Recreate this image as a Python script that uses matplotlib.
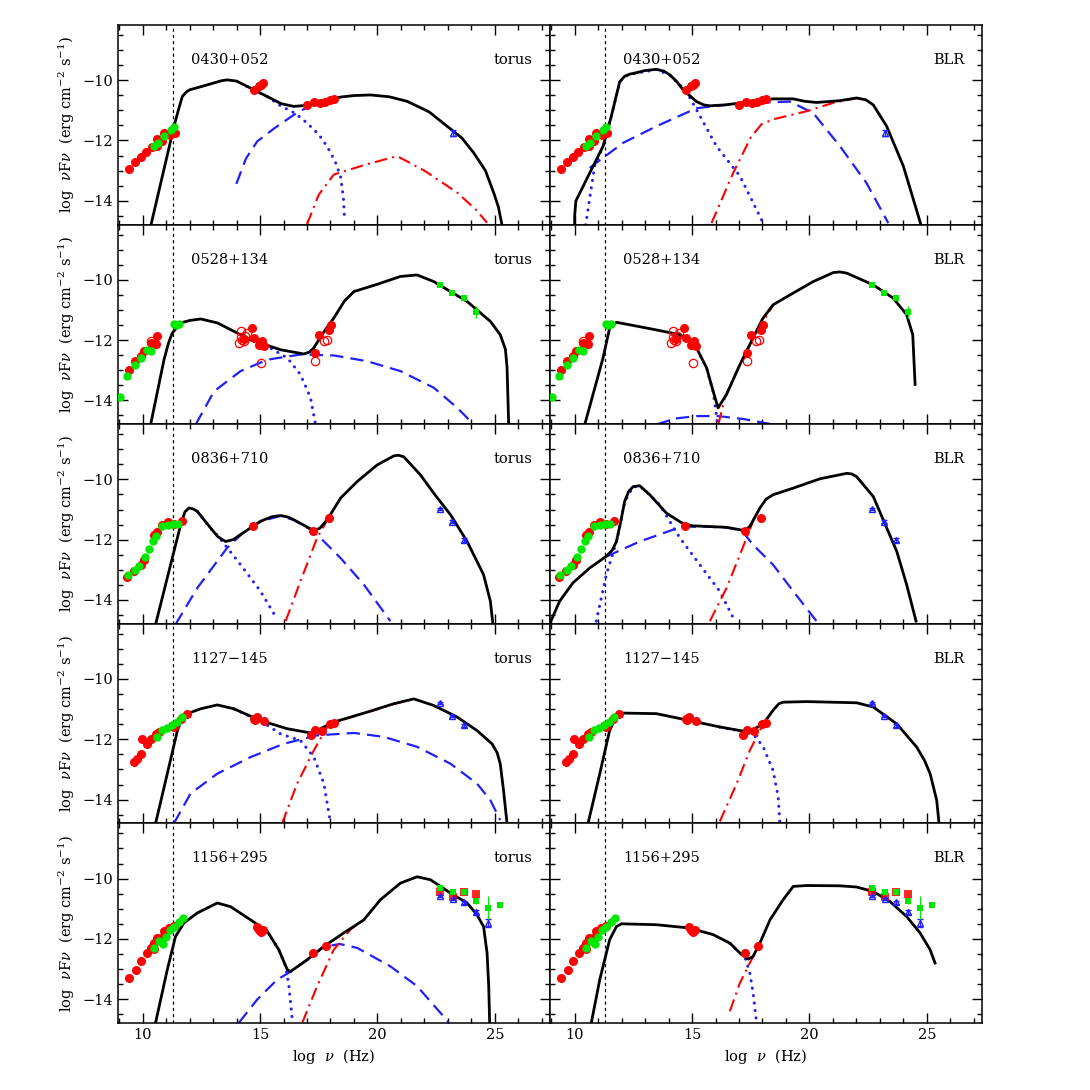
import numpy as np
import matplotlib.pyplot as plt
from matplotlib.ticker import MultipleLocator

# ---------------- observed data (log nu, log nuFnu) ----------------
# 0430+052
o430_radio_red_x = [9.42, 9.66, 9.91, 10.13, 10.41, 10.6, 10.62, 10.84, 10.91, 11.16, 11.36]
o430_radio_red_y = [-12.93, -12.71, -12.56, -12.38, -12.22, -12.17, -11.95, -12.03, -11.75, -11.81, -11.75]
o430_radio_grn_x = [10.48, 10.65, 10.91, 11.19, 11.33]
o430_radio_grn_y = [-12.19, -12.08, -11.86, -11.64, -11.55]
o430_opt_x = [14.74, 14.95, 15.05, 15.13]
o430_opt_y = [-10.32, -10.19, -10.15, -10.08]
o430_xray_x = [17.0, 17.29, 17.57, 17.78, 17.99, 18.14]
o430_xray_y = [-10.81, -10.73, -10.77, -10.71, -10.66, -10.62]
o430_lat_x = [23.2]
o430_lat_y = [-11.75]
o430_lat_err = [0.1]

# 0528+134
o528_radio_red_x = [9.42, 9.66, 9.91, 10.06, 10.34, 10.55, 10.62]
o528_radio_red_y = [-12.98, -12.7, -12.52, -12.37, -12.1, -12.12, -11.88]
o528_radio_grn_x = [9.03, 9.35, 9.66, 9.91, 10.17, 10.34, 11.33, 11.4, 11.55]
o528_radio_grn_y = [-13.9, -13.18, -12.81, -12.59, -12.34, -12.37, -11.47, -11.49, -11.47]
o528_opt_x = [14.3, 14.67, 14.74, 14.95, 15.09, 15.16]
o528_opt_y = [-11.95, -11.6, -11.93, -12.15, -12.04, -12.2]
o528_opt_open_x = [10.34, 14.1, 14.17, 14.2, 14.25, 14.31, 14.35, 14.45, 15.02]
o528_opt_open_y = [-12.03, -12.09, -11.71, -11.9, -12.0, -12.04, -11.85, -11.77, -12.76]
o528_xray_x = [17.34, 17.5, 17.93, 18.03]
o528_xray_y = [-12.43, -11.82, -11.66, -11.49]
o528_xray_open_x = [17.36, 17.72, 17.86]
o528_xray_open_y = [-12.68, -12.04, -11.99]
o528_egret_x = [22.68, 23.18, 23.67, 24.21]
o528_egret_y = [-10.17, -10.44, -10.61, -11.07]
o528_egret_err = [0.04, 0.05, 0.07, 0.2]

# 0836+710
o836_radio_red_x = [9.33, 9.62, 9.93, 10.04, 10.5, 10.61, 10.81, 11.1, 11.32, 11.66]
o836_radio_red_y = [-13.23, -13.05, -12.83, -12.66, -11.83, -11.75, -11.5, -11.42, -11.48, -11.39]
o836_radio_grn_x = [9.39, 9.66, 9.86, 10.1, 10.29, 10.43, 10.57, 10.81, 11.07, 11.28, 11.52]
o836_radio_grn_y = [-13.16, -13.0, -12.88, -12.58, -12.3, -12.06, -11.89, -11.55, -11.52, -11.47, -11.48]
o836_opt_x = [14.69]
o836_opt_y = [-11.56]
o836_xray_x = [17.25, 17.92]
o836_xray_y = [-11.72, -11.28]
o836_lat_x = [22.67, 23.18, 23.69]
o836_lat_y = [-10.99, -11.4, -12.0]
o836_lat_err = [0.03, 0.04, 0.07]

# 1127-145
o1127_radio_red_x = [9.63, 9.77, 9.91, 9.99, 10.2, 10.34, 10.55, 10.7, 11.35, 11.62, 11.9]
o1127_radio_red_y = [-12.75, -12.64, -12.48, -11.98, -12.15, -11.98, -11.82, -11.77, -11.6, -11.32, -11.15]
o1127_radio_grn_x = [10.63, 10.84, 11.05, 11.26, 11.48, 11.69]
o1127_radio_grn_y = [-11.92, -11.68, -11.62, -11.54, -11.43, -11.26]
o1127_opt_x = [14.74, 14.8, 14.88, 15.16]
o1127_opt_y = [-11.32, -11.37, -11.27, -11.4]
o1127_xray_x = [17.15, 17.36, 17.65, 18.0, 18.14]
o1127_xray_y = [-11.87, -11.68, -11.72, -11.49, -11.46]
o1127_lat_x = [22.68, 23.18, 23.7]
o1127_lat_y = [-10.8, -11.23, -11.54]
o1127_lat_err = [0.04, 0.04, 0.05]

# 1156+295
o1156_radio_red_x = [9.42, 9.7, 9.91, 10.17, 10.34, 10.48, 10.48, 10.63, 10.77, 10.91, 11.12, 11.33]
o1156_radio_red_y = [-13.29, -13.04, -12.74, -12.47, -12.3, -12.14, -12.34, -11.97, -11.96, -11.75, -11.64, -11.58]
o1156_radio_grn_x = [10.48, 10.69, 10.88, 10.98, 11.15, 11.33, 11.55, 11.73]
o1156_radio_grn_y = [-12.3, -12.08, -12.16, -11.94, -11.7, -11.6, -11.45, -11.31]
o1156_opt_x = [14.85, 14.95, 15.03, 15.13]
o1156_opt_y = [-11.61, -11.7, -11.78, -11.72]
o1156_xray_x = [17.26, 17.79]
o1156_xray_y = [-12.47, -12.25]
o1156_g_red_x = [22.68, 23.2, 23.7, 24.2]
o1156_g_red_y = [-10.46, -10.6, -10.43, -10.52]
o1156_g_blue_x = [22.68, 23.2, 23.7, 24.2, 24.69]
o1156_g_blue_y = [-10.57, -10.68, -10.79, -11.1, -11.47]
o1156_g_blue_err = [0.04, 0.04, 0.05, 0.06, 0.12]
o1156_g_grn_x = [22.68, 23.2, 23.7, 24.2, 24.69, 25.2]
o1156_g_grn_y = [-10.32, -10.46, -10.46, -10.74, -10.96, -10.87]
o1156_g_grn_err = [0.05, 0.05, 0.06, 0.1, 0.37, 0.03]

# ---------------- model curves (log nu, log nuFnu) ----------------
a_total = [(10.36, -14.78), (11.33, -11.55), (11.5, -11.05), (11.69, -10.54), (11.85, -10.4), (12.0, -10.32),
           (12.33, -10.25), (13.0, -10.1), (13.35, -10.02), (13.6, -9.99), (14.0, -10.03), (14.46, -10.21),
           (15.3, -10.54), (15.9, -10.78), (16.44, -10.87), (16.9, -10.84), (17.29, -10.76), (18.43, -10.56),
           (19.0, -10.51), (19.7, -10.49), (20.5, -10.55), (21.26, -10.7), (22.2, -11.05), (22.97, -11.53),
           (23.6, -11.92), (24.1, -12.41), (24.6, -13.0), (24.95, -13.73), (25.15, -14.2), (25.3, -14.78)]
a_sync = [(14.46, -10.21), (15.3, -10.54), (15.87, -10.85), (16.5, -11.1), (17.0, -11.42), (17.5, -11.8),
          (17.86, -12.2), (18.2, -12.7), (18.43, -13.19), (18.55, -13.9), (18.6, -14.62)]
a_ssc = [(13.99, -13.44), (14.4, -12.6), (14.88, -12.03), (15.6, -11.6), (16.44, -11.15), (17.0, -10.9),
         (17.43, -10.76), (18.43, -10.57)]
a_ec = [(17.0, -14.78), (17.5, -13.8), (18.14, -13.13), (19.5, -12.8), (20.84, -12.52), (22.0, -13.0),
        (23.4, -13.73), (24.2, -14.3), (24.67, -14.73)]

b_total = [(10.0, -14.8), (10.0, -14.51), (10.05, -14.01), (10.64, -13.08), (11.21, -12.19), (11.56, -11.2),
           (11.92, -10.05), (12.13, -9.87), (12.35, -9.8), (12.7, -9.74), (13.0, -9.68), (13.48, -9.64),
           (13.8, -9.7), (14.05, -9.82), (14.35, -10.05), (14.62, -10.32), (15.19, -10.71), (15.5, -10.82),
           (15.76, -10.85), (16.4, -10.82), (17.04, -10.76), (18.45, -10.62), (19.31, -10.62), (19.8, -10.7),
           (20.3, -10.74), (21.3, -10.68), (22.0, -10.59), (22.4, -10.65), (22.72, -10.82), (23.29, -11.53),
           (24.0, -12.85), (24.64, -14.51), (24.75, -14.8)]
b_sync = [(10.47, -14.8), (10.85, -12.85), (11.21, -12.2), (11.56, -11.21), (11.92, -10.06), (12.13, -9.88),
          (12.35, -9.81), (13.48, -9.65), (14.05, -9.83), (14.76, -10.38), (15.19, -10.98), (16.04, -12.19),
          (17.04, -13.18), (18.03, -14.74)]
b_ssc = [(10.64, -12.91), (12.06, -12.08), (13.48, -11.53), (15.19, -10.93), (17.04, -10.77), (19.17, -10.71),
         (20.16, -11.09), (21.3, -12.19), (22.43, -13.41), (23.36, -14.74)]
b_ec = [(15.83, -14.74), (16.75, -13.08), (17.5, -11.9), (17.96, -11.46), (18.45, -11.3), (19.88, -11.03),
        (21.02, -10.75), (22.0, -10.6)]

c_total = [(10.34, -14.8), (10.91, -12.65), (11.1, -12.1), (11.26, -11.77), (11.62, -11.43), (12.0, -11.35),
           (12.47, -11.3), (13.18, -11.43), (14.6, -11.99), (15.87, -12.32), (16.86, -12.46), (17.1, -12.4),
           (17.29, -12.26), (17.7, -11.75), (18.14, -11.27), (18.6, -10.7), (19.0, -10.39), (19.99, -10.15),
           (20.98, -9.89), (21.69, -9.84), (22.4, -10.06), (23.82, -10.72), (24.81, -11.38), (25.23, -11.82),
           (25.45, -12.3), (25.52, -12.9), (25.59, -14.8)]
c_sync = [(14.6, -11.99), (15.31, -12.21), (16.16, -12.59), (16.72, -13.14), (17.15, -13.91), (17.36, -14.8)]
c_ssc = [(12.26, -14.8), (13.04, -13.7), (14.17, -13.03), (15.31, -12.65), (16.72, -12.48), (18.14, -12.51),
         (19.56, -12.7), (20.98, -13.03), (22.4, -13.58), (23.39, -14.24), (24.1, -14.8)]
c_ec = []

d_total = [(10.43, -14.8), (11.21, -12.59), (11.49, -11.6), (11.78, -11.41), (13.2, -11.62), (14.48, -11.82),
           (14.9, -12.0), (15.19, -12.26), (15.62, -12.92), (15.9, -13.7), (16.11, -14.25), (16.47, -13.8),
           (17.04, -12.81), (17.6, -11.93), (18.0, -11.3), (18.45, -10.83), (19.31, -10.44), (20.16, -10.06),
           (21.02, -9.76), (21.3, -9.74), (21.59, -9.78), (22.72, -10.17), (23.57, -10.61), (24.14, -11.16),
           (24.4, -11.82), (24.5, -13.47)]
d_sync = [(14.48, -11.83), (15.19, -12.27), (15.62, -12.93), (15.9, -13.72), (16.0, -14.3), (16.1, -14.8)]
d_ssc = [(13.48, -14.8), (14.3, -14.6), (15.2, -14.52), (16.1, -14.52), (17.2, -14.62), (18.45, -14.8)]
d_ec = [(16.12, -14.8), (16.4, -13.9), (17.04, -12.82), (17.6, -11.94), (18.45, -10.84)]

e_total = [(10.55, -14.81), (11.62, -11.5), (11.8, -11.08), (11.97, -10.95), (12.15, -10.98), (12.33, -11.06),
           (12.89, -11.61), (13.2, -11.9), (13.53, -12.06), (13.85, -12.0), (14.17, -11.83), (15.02, -11.39),
           (15.5, -11.24), (15.87, -11.2), (16.2, -11.25), (16.44, -11.34), (17.29, -11.7), (17.55, -11.62),
           (17.86, -11.34), (18.43, -10.62), (19.14, -10.07), (19.99, -9.52), (20.7, -9.22), (20.9, -9.2),
           (21.12, -9.25), (21.83, -9.85), (22.4, -10.46), (23.11, -11.17), (23.82, -12.06), (24.52, -13.16),
           (24.81, -14.04), (24.92, -14.81)]
e_sync = [(12.33, -11.07), (12.89, -11.62), (13.18, -11.85), (14.17, -12.83), (15.02, -13.71), (15.73, -14.64)]
e_ssc = [(11.4, -14.81), (12.33, -13.6), (13.6, -12.27), (14.31, -11.75), (15.02, -11.4), (15.87, -11.21),
         (16.44, -11.35), (17.2, -11.68), (17.57, -11.94), (18.43, -12.61), (19.42, -13.49), (20.55, -14.7)]
e_ec = [(16.09, -14.7), (16.72, -13.38), (17.43, -11.94), (17.86, -11.36), (18.43, -10.63)]

f_total = [(8.96, -14.75), (9.36, -14.04), (9.93, -13.43), (10.64, -12.94), (11.35, -12.55), (11.6, -12.35),
           (11.78, -12.06), (11.95, -11.45), (12.13, -10.73), (12.3, -10.4), (12.49, -10.24), (12.77, -10.21),
           (13.2, -10.51), (13.91, -11.12), (14.62, -11.47), (15.0, -11.54), (15.62, -11.56), (16.47, -11.59),
           (17.11, -11.68), (17.3, -11.66), (17.46, -11.56), (17.89, -10.95), (18.15, -10.66), (18.45, -10.51),
           (19.31, -10.29), (20.45, -9.98), (21.59, -9.8), (21.8, -9.82), (22.01, -9.91), (22.72, -10.57),
           (23.72, -12.39), (24.14, -13.49), (24.54, -14.7)]
f_sync = [(10.92, -14.7), (11.35, -13.16), (11.78, -12.07), (11.95, -11.46), (12.13, -10.74), (12.49, -10.25),
          (12.77, -10.22), (13.2, -10.52), (13.62, -10.84), (14.48, -11.94), (15.33, -12.83), (16.18, -13.71),
          (16.75, -14.59)]
f_ssc = [(11.35, -12.56), (12.77, -12.06), (14.19, -11.67), (14.9, -11.57), (15.62, -11.57), (16.47, -11.6),
         (17.11, -11.69), (17.6, -12.17), (18.45, -12.83), (19.31, -13.71), (20.3, -14.7)]
f_ec = [(15.76, -14.7), (16.47, -13.6), (17.04, -12.5), (17.6, -11.39), (17.89, -10.96)]

g_total = [(10.55, -14.79), (11.05, -13.14), (11.48, -11.71), (11.65, -11.35), (11.9, -11.15), (12.47, -10.99),
           (13.18, -10.86), (13.89, -10.99), (15.02, -11.38), (16.16, -11.65), (17.15, -11.79), (17.35, -11.76),
           (17.57, -11.65), (18.14, -11.43), (19.56, -11.1), (20.7, -10.82), (21.55, -10.66), (22.4, -10.88),
           (23.39, -11.26), (24.24, -11.71), (24.88, -12.15), (25.1, -12.45), (25.23, -12.81), (25.37, -13.69),
           (25.52, -14.79)]
g_sync = [(13.89, -11.0), (15.02, -11.39), (15.87, -11.82), (16.72, -12.04), (17.29, -12.59), (17.72, -13.47),
          (18.0, -14.79)]
g_ssc = [(11.33, -14.79), (12.04, -13.8), (13.18, -13.14), (14.6, -12.59), (16.01, -12.15), (17.43, -11.87),
         (19.0, -11.79), (20.27, -11.92), (21.69, -12.25), (23.11, -12.81), (24.24, -13.47), (24.81, -14.02),
         (25.23, -14.68)]
g_ec = [(15.94, -14.79), (16.58, -13.47), (17.29, -12.37), (17.86, -11.59), (18.14, -11.44), (19.56, -11.11),
        (20.7, -10.83), (21.55, -10.67)]

h_total = [(10.57, -14.79), (11.07, -13.14), (11.49, -11.71), (11.78, -11.21), (11.99, -11.13), (13.48, -11.15),
           (14.9, -11.38), (16.18, -11.59), (17.18, -11.73), (17.6, -11.68), (18.03, -11.49), (18.45, -11.04),
           (18.7, -10.82), (18.88, -10.77), (19.88, -10.75), (22.01, -10.79), (22.72, -10.93), (23.72, -11.49),
           (24.57, -12.26), (24.9, -12.7), (25.14, -13.14), (25.42, -14.02), (25.52, -14.79)]
h_sync = [(16.18, -11.6), (17.18, -11.74), (17.6, -11.82), (18.03, -12.25), (18.45, -13.03), (18.67, -13.91),
          (18.74, -14.79)]
h_ssc = []
h_ec = [(16.18, -14.73), (16.9, -13.47), (17.46, -12.37), (17.89, -11.71), (18.03, -11.5)]

i_total = [(10.55, -14.78), (11.05, -13.02), (11.4, -11.92), (11.76, -11.47), (12.33, -11.14), (13.18, -10.81),
           (13.74, -10.93), (14.6, -11.37), (15.31, -11.75), (15.8, -12.36), (16.16, -13.02), (16.3, -13.08),
           (17.01, -12.69), (17.72, -12.25), (18.57, -11.8), (19.42, -11.37), (20.13, -10.7), (20.98, -10.15),
           (21.69, -9.94), (22.26, -10.04), (23.11, -10.48), (23.82, -10.81), (24.24, -11.2), (24.52, -11.59),
           (24.67, -12.47), (24.74, -13.57), (24.78, -14.78)]
i_sync = [(15.31, -11.76), (15.8, -12.37), (16.09, -12.91), (16.23, -13.57), (16.37, -14.67), (16.4, -14.78)]
i_ssc = [(14.1, -14.78), (14.88, -14.01), (15.73, -13.35), (16.3, -13.09), (17.01, -12.7), (17.72, -12.26),
         (18.4, -12.17), (19.14, -12.3), (20.55, -12.91), (21.69, -13.57), (22.68, -14.45), (23.04, -14.78)]
i_ec = [(16.8, -14.78), (17.43, -13.57), (18.14, -12.36), (18.85, -11.69), (19.42, -11.38)]

j_total = [(10.71, -14.78), (11.07, -13.35), (11.49, -12.03), (11.78, -11.59), (11.99, -11.5), (13.48, -11.53),
           (14.9, -11.64), (15.9, -11.86), (16.61, -12.14), (17.04, -12.47), (17.39, -12.67), (17.6, -12.58),
           (17.89, -12.14), (18.32, -11.37), (18.88, -10.7), (19.31, -10.26), (19.88, -10.23), (21.3, -10.24),
           (22.01, -10.28), (22.72, -10.43), (23.43, -10.76), (24.14, -11.26), (24.71, -11.8), (25.14, -12.36),
           (25.35, -12.8)]
j_sync = [(16.61, -12.15), (17.04, -12.48), (17.25, -12.6), (17.46, -13.13), (17.6, -13.79), (17.74, -14.73)]
j_ssc = []
j_ec = [(16.61, -14.4), (17.04, -13.46), (17.46, -12.8), (17.6, -12.59), (17.89, -12.15)]

source_names = ["0430+052", "0528+134", "0836+710", "1127\u2212145", "1156+295"]
model_names = ["torus", "BLR"]
ext_nu = 11.3  # vertical dotted line

RED = "#ff0000"
GREEN = "#00e800"
BLUE = "#2020ff"

plt.rcParams["font.family"] = ["DejaVu Serif"]
plt.rcParams["mathtext.fontset"] = "dejavuserif"

sources = [
    dict(red=(o430_radio_red_x, o430_radio_red_y), grn=(o430_radio_grn_x, o430_radio_grn_y),
         opt=(o430_opt_x, o430_opt_y), xray=(o430_xray_x, o430_xray_y),
         tri=(o430_lat_x, o430_lat_y, o430_lat_err),
         models=[(a_total, a_sync, a_ssc, a_ec), (b_total, b_sync, b_ssc, b_ec)]),
    dict(red=(o528_radio_red_x, o528_radio_red_y), grn=(o528_radio_grn_x, o528_radio_grn_y),
         opt=(o528_opt_x, o528_opt_y), xray=(o528_xray_x, o528_xray_y),
         opt_open=(o528_opt_open_x + o528_xray_open_x, o528_opt_open_y + o528_xray_open_y),
         gsq=(o528_egret_x, o528_egret_y, o528_egret_err),
         models=[(c_total, c_sync, c_ssc, c_ec), (d_total, d_sync, d_ssc, d_ec)]),
    dict(red=(o836_radio_red_x, o836_radio_red_y), grn=(o836_radio_grn_x, o836_radio_grn_y),
         opt=(o836_opt_x, o836_opt_y), xray=(o836_xray_x, o836_xray_y),
         tri=(o836_lat_x, o836_lat_y, o836_lat_err),
         models=[(e_total, e_sync, e_ssc, e_ec), (f_total, f_sync, f_ssc, f_ec)]),
    dict(red=(o1127_radio_red_x, o1127_radio_red_y), grn=(o1127_radio_grn_x, o1127_radio_grn_y),
         opt=(o1127_opt_x, o1127_opt_y), xray=(o1127_xray_x, o1127_xray_y),
         tri=(o1127_lat_x, o1127_lat_y, o1127_lat_err),
         models=[(g_total, g_sync, g_ssc, g_ec), (h_total, h_sync, h_ssc, h_ec)]),
    dict(red=(o1156_radio_red_x, o1156_radio_red_y), grn=(o1156_radio_grn_x, o1156_radio_grn_y),
         opt=(o1156_opt_x, o1156_opt_y), xray=(o1156_xray_x, o1156_xray_y),
         rsq=(o1156_g_red_x, o1156_g_red_y),
         tri=(o1156_g_blue_x, o1156_g_blue_y, o1156_g_blue_err),
         gsq=(o1156_g_grn_x, o1156_g_grn_y, o1156_g_grn_err),
         models=[(i_total, i_sync, i_ssc, i_ec), (j_total, j_sync, j_ssc, j_ec)]),
]

line_styles = [
    dict(color=BLUE, lw=2.2, ls=(0, (0.05, 2.4)), dash_capstyle="round"),  # synchrotron
    dict(color=BLUE, lw=1.6, ls=(0, (6, 3.2))),                            # SSC
    dict(color=RED, lw=1.5, ls=(0, (6, 2.5, 1, 2.5))),                     # EC
]

fig, axes = plt.subplots(5, 2, figsize=(10.9, 10.9), dpi=100, sharex=True, sharey=True,
                         gridspec_kw=dict(hspace=0, wspace=0))
plt.subplots_adjust(left=118 / 1090, right=982 / 1090, top=1 - 25 / 1090, bottom=1 - 1023 / 1090)

for r, src in enumerate(sources):
    for c in range(2):
        ax = axes[r, c]
        total, sync, ssc, ec = src["models"][c]
        for pts, st in zip((sync, ssc, ec), line_styles):
            if pts:
                xs, ys = zip(*pts)
                ax.plot(xs, ys, zorder=2, **st)
        xs, ys = zip(*total)
        ax.plot(xs, ys, color="black", lw=2.0, zorder=3, solid_joinstyle="round")

        ax.axvline(ext_nu, color="black", lw=0.9, ls=(0, (2.5, 2.5)), zorder=1)

        # data
        ax.plot(*src["red"], "o", color=RED, ms=6.5, mew=0, zorder=4)
        ax.plot(*src["grn"], "o", color=GREEN, ms=6, mew=0, zorder=5)
        ax.plot(*src["opt"], "o", color=RED, ms=6.5, mew=0, zorder=4)
        ax.plot(*src["xray"], "o", color=RED, ms=6.5, mew=0, zorder=4)
        if "opt_open" in src:
            ax.plot(*src["opt_open"], "o", mfc="none", mec=RED, ms=6, mew=0.9, zorder=4)
        if "rsq" in src:
            ax.plot(*src["rsq"], "s", color=RED, ms=5.5, mew=0, alpha=0.85, zorder=4)
        if "tri" in src:
            tx, ty, te = src["tri"]
            ax.errorbar(tx, ty, yerr=te, fmt="^", color=BLUE, mfc="none", ms=5, mew=1.0,
                        elinewidth=0.9, capsize=2.5, zorder=5)
        if "gsq" in src:
            gx, gy, ge = src["gsq"]
            ax.errorbar(gx, gy, yerr=ge, fmt="s", color=GREEN, ms=5, mew=0,
                        elinewidth=0.9, capsize=3, zorder=6)

        ax.text(12.05, -9.33, source_names[r], fontsize=10.5, ha="left", va="center")
        ax.text(26.6, -9.33, model_names[c], fontsize=10.5, ha="right", va="center")

        ax.set_xlim(8.95, 27.35)
        ax.set_ylim(-14.79, -8.17)
        ax.xaxis.set_major_locator(MultipleLocator(5))
        ax.xaxis.set_minor_locator(MultipleLocator(1))
        ax.yaxis.set_major_locator(MultipleLocator(2))
        ax.yaxis.set_minor_locator(MultipleLocator(0.5))
        ax.tick_params(which="both", direction="in", top=True, right=True, labelsize=10.5, width=1.0)
        ax.tick_params(which="major", length=7)
        ax.tick_params(which="minor", length=3.5)
        for sp in ax.spines.values():
            sp.set_linewidth(1.1)
        if c == 0:
            ax.set_ylabel(r"log  $\nu$F$\nu$  (erg cm$^{-2}$ s$^{-1}$)", fontsize=10.5)
        if r == 4:
            ax.set_xlabel(r"log  $\nu$  (Hz)", fontsize=10.5)

fig.savefig("out.png", dpi=100)
